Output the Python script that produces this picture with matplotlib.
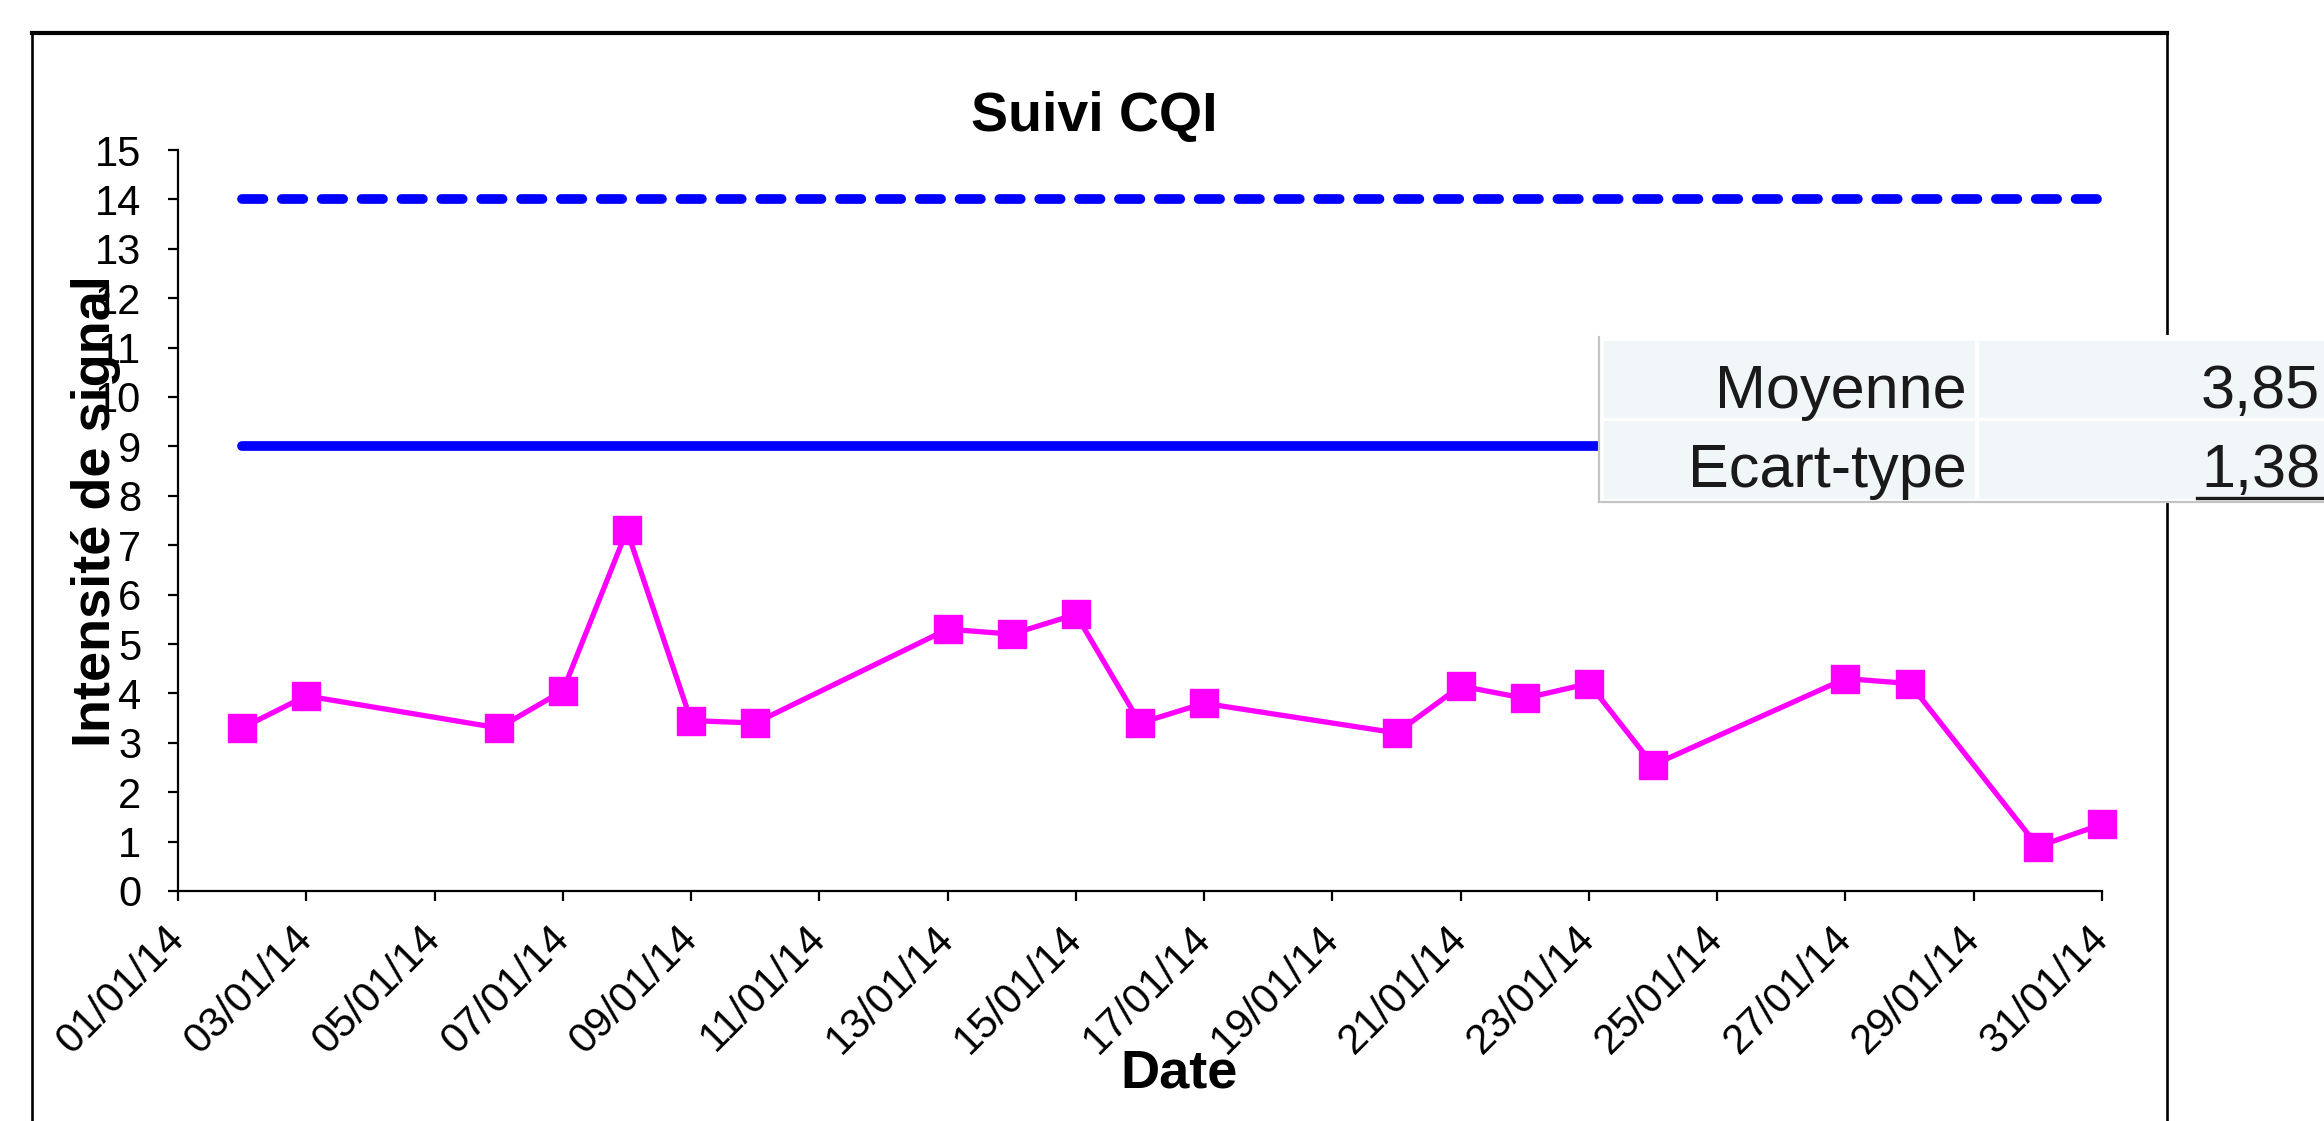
import numpy as np
import pandas as pd
import matplotlib
matplotlib.use('Agg')
import matplotlib.pyplot as plt
import matplotlib.dates as mdates
from matplotlib.patches import Rectangle
from matplotlib.lines import Line2D
from matplotlib.transforms import ScaledTranslation

# data
dates = ['2014-01-02', '2014-01-03', '2014-01-06', '2014-01-07', '2014-01-08',
         '2014-01-09', '2014-01-10', '2014-01-13', '2014-01-14', '2014-01-15',
         '2014-01-16', '2014-01-17', '2014-01-20', '2014-01-21', '2014-01-22',
         '2014-01-23', '2014-01-24', '2014-01-27', '2014-01-28', '2014-01-30',
         '2014-01-31']
values = [3.3, 3.95, 3.3, 4.05, 7.3, 3.45, 3.4, 5.3, 5.2, 5.6, 3.4, 3.8,
          3.2, 4.15, 3.9, 4.2, 2.55, 4.3, 4.2, 0.9, 1.35]
limit_dates = ['2014-01-02', '2014-01-31']
limit_high = 14
limit_low = 9
stats_labels = ['Moyenne', 'Ecart-type']
stats_values = ['3,85', '1,38']

W, H = 2324, 1121
plt.rcParams['font.family'] = ['Liberation Sans', 'DejaVu Sans']


def fx(x):
    return x / W


def fy(y):
    return 1 - y / H


def main():
    d = pd.to_datetime(dates)
    ld = pd.to_datetime(limit_dates)

    fig = plt.figure(figsize=(W / 100, H / 100), dpi=100)
    fig.patch.set_facecolor('white')

    # outer chart frame (bottom edge is off the picture)
    fig.add_artist(Rectangle((fx(32), -0.1), fx(2167) - fx(32), fy(33) + 0.1,
                             transform=fig.transFigure, fill=False,
                             edgecolor='black', linewidth=1.9, zorder=0))
    fig.add_artist(Line2D([fx(32), fx(2167)], [fy(33), fy(33)],
                          transform=fig.transFigure, color='black',
                          linewidth=3, zorder=0))

    ax = fig.add_axes([fx(178), fy(891), fx(2102) - fx(178), fy(150) - fy(891)])
    ax.set_facecolor('none')

    ax.plot(ld, [limit_high] * 2, color='#0000FF', linewidth=7,
            linestyle=(0, (2.2, 1.9)), dash_capstyle='round', zorder=2)
    ax.plot(ld, [limit_low] * 2, color='#0000FF', linewidth=7,
            solid_capstyle='round', zorder=2)
    ax.plot(d, values, color='#FF00FF', linewidth=3.8, marker='s',
            markersize=20, markerfacecolor='#FF00FF', markeredgecolor='#FF00FF',
            clip_on=False, zorder=3)

    ax.set_ylim(0, 15)
    ax.set_yticks(np.arange(0, 16, 1))
    ax.set_xlim(pd.Timestamp('2014-01-01'), pd.Timestamp('2014-01-31'))
    ax.set_xticks(pd.date_range('2014-01-01', '2014-01-31', freq='2D'))
    ax.xaxis.set_major_formatter(mdates.DateFormatter('%d/%m/%y'))

    for s in ['top', 'right']:
        ax.spines[s].set_visible(False)
    for s in ['left', 'bottom']:
        ax.spines[s].set_linewidth(1.6)
    ax.tick_params(axis='both', direction='out', length=7.5, width=1.6,
                   colors='black')
    ax.tick_params(axis='y', pad=19, labelsize=30)
    ax.tick_params(axis='x', pad=12, labelsize=30)
    off = ScaledTranslation(-14 / 100, 0, fig.dpi_scale_trans)
    for lab in ax.get_xticklabels():
        lab.set_rotation(45)
        lab.set_ha('right')
        lab.set_va('top')
        lab.set_rotation_mode('anchor')
        lab.set_transform(lab.get_transform() + off)

    # titles
    fig.text(fx(1094), fy(131), 'Suivi CQI', ha='center', va='baseline',
             fontsize=40, fontweight='bold')
    fig.text(fx(1179), fy(1088), 'Date', ha='center', va='baseline',
             fontsize=39, fontweight='bold')
    fig.text(fx(110), fy(511), 'Intensité de signal', ha='center',
             va='baseline', rotation=90, rotation_mode='anchor',
             fontsize=39, fontweight='bold', zorder=5)

    # stats table pasted over the chart
    fig.add_artist(Rectangle((fx(1599), fy(502)), fx(2340) - fx(1599),
                             fy(335) - fy(502), transform=fig.transFigure,
                             facecolor='white', edgecolor='none', zorder=6))
    fig.add_artist(Line2D([fx(1599), fx(1599)], [fy(337), fy(502)],
                          transform=fig.transFigure, color='#C4C4C4',
                          linewidth=1.6, zorder=7))
    fig.add_artist(Line2D([fx(1599), fx(2330)], [fy(502), fy(502)],
                          transform=fig.transFigure, color='#C4C4C4',
                          linewidth=1.6, zorder=7))
    rows = [(341, 418), (421, 499)]
    cols = [(1604, 1975), (1979, 2330)]
    baselines = [408, 487]
    for i, (y0, y1) in enumerate(rows):
        for (x0, x1) in cols:
            fig.add_artist(Rectangle((fx(x0), fy(y1)), fx(x1) - fx(x0),
                                     fy(y0) - fy(y1), transform=fig.transFigure,
                                     facecolor='#F1F6F9', edgecolor='none',
                                     zorder=7))
        fig.text(fx(1967), fy(baselines[i]), stats_labels[i], ha='right',
                 va='baseline', fontsize=44, color='#1A1A1A', zorder=8)
        fig.text(fx(2320), fy(baselines[i]), stats_values[i], ha='right',
                 va='baseline', fontsize=44, color='#1A1A1A', zorder=8)
    fig.add_artist(Line2D([fx(2197), fx(2324)], [fy(498), fy(498)],
                          transform=fig.transFigure, color='#1A1A1A',
                          linewidth=2.4, zorder=8))

    fig.savefig('out.png', dpi=100)


if __name__ == "__main__":
    main()
